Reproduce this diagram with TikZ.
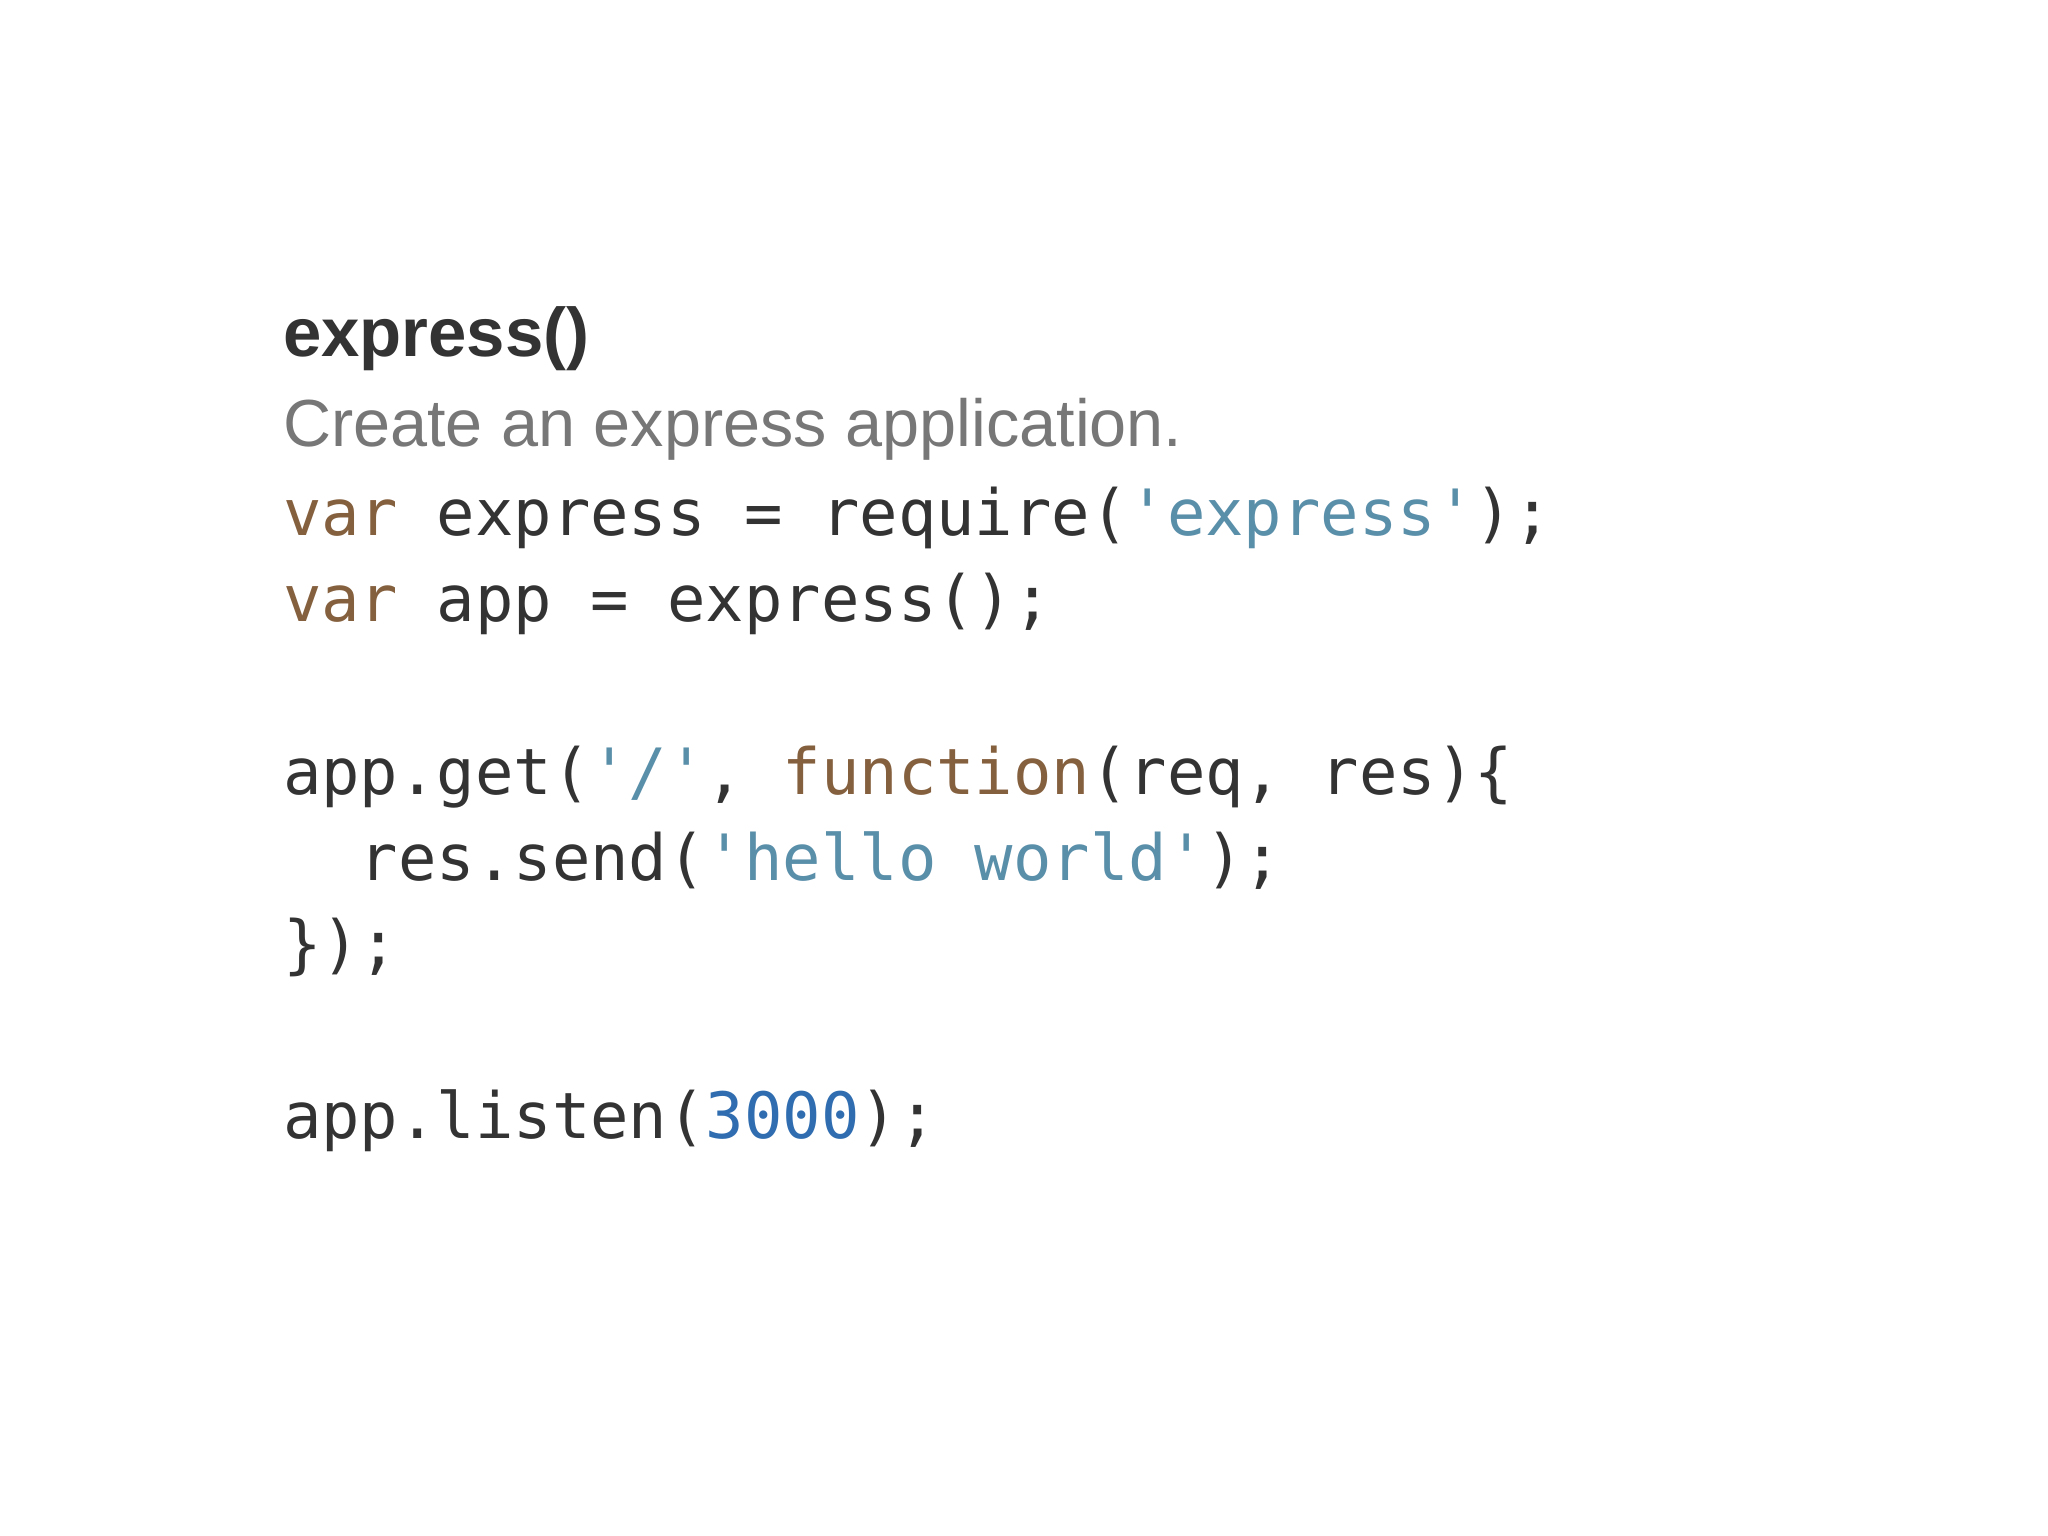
\documentclass[tikz,border=0pt]{standalone}
\usepackage{fontspec}
\setmainfont{Liberation Sans}
\setmonofont{DejaVu Sans Mono}
\definecolor{txt}{HTML}{333333}
\definecolor{kw}{HTML}{85603E}
\definecolor{str}{HTML}{5A8FAA}
\definecolor{num}{HTML}{2F6DB0}
\definecolor{desc}{HTML}{777777}
\tikzset{code/.style={anchor=base west,inner sep=0pt,text=txt,font=\fontsize{13.9pt}{16pt}\ttfamily}}
\begin{document}
\begin{tikzpicture}[x=0.01cm,y=-0.01cm]
\fill[white] (0,0) rectangle (1568,1176);
\node[anchor=base west,inner sep=0pt,text=txt,font=\fontsize{15pt}{18pt}\selectfont\bfseries] (title) at (216,273) {express()};
\node[anchor=base west,inner sep=0pt,text=desc,font=\fontsize{14.5pt}{18pt}\selectfont] (desc) at (216,342) {Create an express application.};
\node[code] (l1) at (216,410) {\textcolor{kw}{var} express = require(\textcolor{str}{'express'});};
\node[code] (l2) at (216,476) {\textcolor{kw}{var} app = express();};
\node[code] (l4) at (216,608) {app.get(\textcolor{str}{'/'}, \textcolor{kw}{function}(req, res)\{};
\node[code] (l5) at (216,674) {\phantom{xx}res.send(\textcolor{str}{'hello world'});};
\node[code] (l6) at (216,740) {\});};
\node[code] (l8) at (216,872) {app.listen(\textcolor{num}{3000});};
\end{tikzpicture}
\end{document}
